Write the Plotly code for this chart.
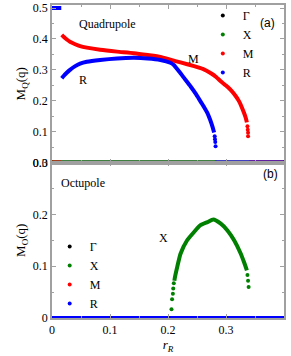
import plotly.graph_objects as go

# ---------------- data ----------------
series_names = ["Γ", "X", "M", "R"]
series_colors = ["#000000", "#008000", "#ff0000", "#0000ff"]

# Top panel (quadrupole)
top_G_r = [0.0, 0.4]
top_G_v = [0.0, 0.0]

top_X_r = [0.0, 0.282]
top_X_v = [0.0, 0.0]

top_M_zero_r = [0.0, 0.016]
top_M_zero_v = [0.0, 0.0]
top_M_r = [0.0168, 0.02, 0.025, 0.031, 0.04, 0.0485, 0.06, 0.083, 0.112, 0.141, 0.165,
           0.187, 0.204, 0.2216, 0.245, 0.26, 0.274, 0.283, 0.291, 0.30, 0.308, 0.316,
           0.3226, 0.327, 0.331, 0.334, 0.336]
top_M_v = [0.413, 0.407, 0.399, 0.391, 0.383, 0.377, 0.372, 0.365, 0.359, 0.354, 0.348,
           0.342, 0.333, 0.324, 0.312, 0.303, 0.289, 0.277, 0.263, 0.249, 0.235, 0.217,
           0.198, 0.18, 0.161, 0.145, 0.13]
top_M_dot_r = [0.337, 0.3375, 0.338, 0.338]
top_M_dot_v = [0.117, 0.106, 0.096, 0.085]
top_M_tail_r = [0.34, 0.4]
top_M_tail_v = [0.0, 0.0]

top_R_head_r = [0.0, 0.016]
top_R_head_v = [0.5, 0.5]
top_R_r = [0.0168, 0.02, 0.025, 0.031, 0.04, 0.0485, 0.06, 0.083, 0.112, 0.141, 0.165,
           0.187, 0.204, 0.21, 0.2216, 0.23, 0.239, 0.248, 0.256, 0.262, 0.268, 0.2725,
           0.2765, 0.2795]
top_R_v = [0.273, 0.28, 0.29, 0.30, 0.312, 0.32, 0.326, 0.332, 0.337, 0.339, 0.337,
           0.332, 0.323, 0.316, 0.289, 0.268, 0.246, 0.222, 0.198, 0.18, 0.16, 0.139,
           0.117, 0.097]
top_R_dot_r = [0.2805, 0.281, 0.2815, 0.282]
top_R_dot_v = [0.085, 0.075, 0.066, 0.053]
top_R_zero_r = [0.282, 0.4]
top_R_zero_v = [0.0, 0.0]

# Bottom panel (octupole)
bot_G_r = [0.0, 0.4]
bot_G_v = [0.0, 0.0]
bot_M_r = [0.0, 0.4]
bot_M_v = [0.0, 0.0]
bot_R_r = [0.0, 0.4]
bot_R_v = [0.0, 0.0]

bot_X_zero_r = [0.0, 0.205]
bot_X_zero_v = [0.0, 0.0]
bot_X_dot_r = [0.206, 0.207, 0.2084, 0.209, 0.210, 0.337, 0.338, 0.339]
bot_X_dot_v = [0.017, 0.036, 0.047, 0.057, 0.067, 0.083, 0.072, 0.060]
bot_X_r = [0.211, 0.212, 0.216, 0.2216, 0.233, 0.245, 0.256, 0.268, 0.278, 0.291, 0.3025,
           0.314, 0.3255, 0.331, 0.336]
bot_X_v = [0.072, 0.079, 0.099, 0.124, 0.15, 0.166, 0.179, 0.185, 0.19, 0.182, 0.169,
           0.15, 0.124, 0.108, 0.092]
bot_X_tail_r = [0.34, 0.4]
bot_X_tail_v = [0.0, 0.0]

x_tickvals = [0, 0.1, 0.2, 0.3, 0.4]
x_ticktext = ["0", "0.1", "0.2", "0.3", "0.4"]
y1_tickvals = [0, 0.1, 0.2, 0.3, 0.4, 0.5]
y1_ticktext = ["0.0", "0.1", "0.2", "0.3", "0.4", "0.5"]
y2_tickvals = [0, 0.1, 0.2, 0.3]
y2_ticktext = ["0", "0.1", "0.2", "0.3"]

# ---------------- figure ----------------
SERIF = "Liberation Serif"
SANS = "Liberation Sans"
GRAY = "#a0a0a0"
LW = 4
MS = 4


fig = go.Figure()


def add(panel, name, color, flat_segs, curve, dots, legend):
    xa, ya = ("x", "y") if panel == 1 else ("x2", "y2")
    for sx, sy in flat_segs:
        fig.add_trace(go.Scatter(x=sx, y=sy, mode="lines", line=dict(color=color, width=LW),
                                 showlegend=False, cliponaxis=False, xaxis=xa, yaxis=ya,
                                 hoverinfo="skip"))
    if curve is not None:
        cx, cy = curve
        fig.add_trace(go.Scatter(x=cx, y=cy, mode="lines",
                                 line=dict(color=color, width=LW, shape="spline", smoothing=0.5),
                                 showlegend=False, cliponaxis=False, xaxis=xa, yaxis=ya))
    dx, dy = dots
    fig.add_trace(go.Scatter(x=dx, y=dy, mode="markers", name=name,
                             marker=dict(color=color, size=MS), cliponaxis=False,
                             legend=legend, xaxis=xa, yaxis=ya))


# top panel
add(1, "Γ", series_colors[0], [(top_G_r, top_G_v)], None, (top_G_r, top_G_v), "legend")
add(1, "X", series_colors[1], [(top_X_r, top_X_v)], None, (top_X_r, top_X_v), "legend")
add(1, "M", series_colors[2], [(top_M_zero_r, top_M_zero_v), (top_M_tail_r, top_M_tail_v)],
    (top_M_r, top_M_v), (top_M_dot_r, top_M_dot_v), "legend")
add(1, "R", series_colors[3], [(top_R_head_r, top_R_head_v), (top_R_zero_r, top_R_zero_v)],
    (top_R_r, top_R_v), (top_R_dot_r, top_R_dot_v), "legend")

# bottom panel
add(2, "Γ", series_colors[0], [(bot_G_r, bot_G_v)], None, (bot_G_r, bot_G_v), "legend2")
add(2, "X", series_colors[1], [(bot_X_zero_r, bot_X_zero_v), (bot_X_tail_r, bot_X_tail_v)],
    (bot_X_r, bot_X_v), (bot_X_dot_r, bot_X_dot_v), "legend2")
add(2, "M", series_colors[2], [(bot_M_r, bot_M_v)], None, (bot_M_r, bot_M_v), "legend2")
add(2, "R", series_colors[3], [(bot_R_r, bot_R_v)], None, (bot_R_r, bot_R_v), "legend2")

axis_common = dict(showline=True, linecolor=GRAY, linewidth=1.5, mirror="ticks",
                   ticks="inside", ticklen=4, tickcolor=GRAY, tickwidth=1,
                   showgrid=False, zeroline=False,
                   tickfont=dict(family=SERIF, size=12, color="black"))
minor_x = dict(ticks="inside", ticklen=2.5, tickcolor=GRAY, dtick=0.05, showgrid=False)

split = 0.4968
fig.update_layout(
    width=291, height=356,
    margin=dict(l=52, r=7, t=5, b=38, autoexpand=False),
    paper_bgcolor="white", plot_bgcolor="white",
    font=dict(family=SERIF, size=12, color="black"),
    xaxis=dict(domain=[0, 1], anchor="y", range=[0, 0.4], matches="x2",
               tickvals=x_tickvals, showticklabels=False, minor=minor_x, **axis_common),
    yaxis=dict(domain=[split, 1], anchor="x", range=[0, 0.51],
               tickvals=y1_tickvals, ticktext=y1_ticktext,
               minor=dict(ticks="inside", ticklen=2.5, tickcolor=GRAY, dtick=0.05, showgrid=False),
               title=dict(text="M<sub>Q</sub>(q)", font=dict(family=SERIF, size=13), standoff=4),
               **axis_common),
    xaxis2=dict(domain=[0, 1], anchor="y2", range=[0, 0.4],
                tickvals=x_tickvals, ticktext=x_ticktext, minor=minor_x,
                title=dict(text="<i>r<sub>R</sub></i>", font=dict(family=SERIF, size=13), standoff=4),
                **axis_common),
    yaxis2=dict(domain=[0, split], anchor="x2", range=[0, 0.3],
                tickvals=y2_tickvals, ticktext=y2_ticktext,
                minor=dict(ticks="inside", ticklen=2.5, tickcolor=GRAY, dtick=0.05, showgrid=False),
                title=dict(text="M<sub>O</sub>(q)", font=dict(family=SERIF, size=13), standoff=4),
                **axis_common),
    legend=dict(x=0.65, y=1.013, xanchor="left", yanchor="top", bgcolor="rgba(0,0,0,0)",
                font=dict(family=SERIF, size=12), itemwidth=30, tracegroupgap=0),
    legend2=dict(x=-0.01, y=0.275, xanchor="left", yanchor="top", bgcolor="rgba(0,0,0,0)",
                 font=dict(family=SERIF, size=12), itemwidth=30, tracegroupgap=0),
    showlegend=True,
)

ann_font = dict(family=SERIF, size=12, color="black")
sans_font = dict(family=SANS, size=12, color="black")
annotations = [
    ("Quadrupole", 0.095, 0.448, "x", "y", ann_font),
    ("R", 0.054, 0.268, "x", "y", ann_font),
    ("M", 0.244, 0.335, "x", "y", ann_font),
    ("(a)", 0.372, 0.452, "x", "y", sans_font),
    ("Octupole", 0.054, 0.26, "x2", "y2", ann_font),
    ("X", 0.192, 0.154, "x2", "y2", ann_font),
    ("(b)", 0.377, 0.277, "x2", "y2", sans_font),
]
for text, ax, ay, xr, yr, f in annotations:
    fig.add_annotation(text=text, x=ax, y=ay, xref=xr, yref=yr, showarrow=False,
                       xanchor="center", yanchor="middle", font=f)

fig.write_html("out.html", config={"displayModeBar": False},
               post_script="document.body.style.margin='0';")
